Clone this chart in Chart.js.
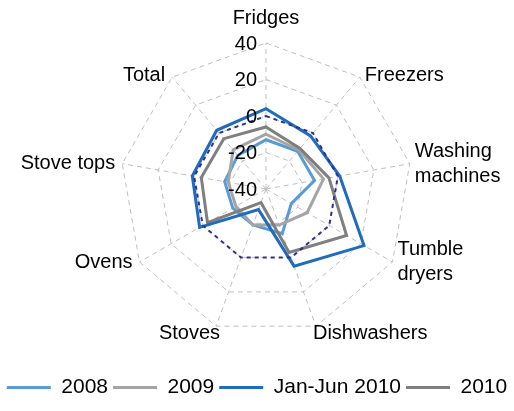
<!DOCTYPE html>
<html>
<head>
<meta charset="utf-8">
<script src="https://cdn.jsdelivr.net/npm/chart.js@4.4.1/dist/chart.umd.min.js"></script>
<style>
  html, body { margin: 0; padding: 0; background: #ffffff; }
  #wrap { width: 514px; height: 411px; position: relative; }
</style>
</head>
<body>
<div id="wrap"><canvas id="c" width="514" height="411"></canvas></div>
<script>
const categories = ["Fridges", "Freezers", ["Washing", "machines"], ["Tumble", "dryers"], "Dishwashers", "Stoves", "Ovens", "Stove tops", "Total"];
const seriesNames = ["2008", "2009", "Jan-Jun 2010", "2010"];
const values2008 = [-13, -13, -13, -24, -14, -19, -19, -17, -16];
const values2009 = [-10, -12, -8, -14, -19, -19, -21, -19, -12];
const valuesJanJun2010 = [4, -2, 1, 22, 5, -28, 2, 1, 2];
const values2010 = [-6, -11, -5, 11, -3, -32, -3, -4, -4];
const zeroLine = [0, 0, 0, 0, 0, 0, 0, 0, 0];
const tickValues = [40, 20, 0, -20, -40];

const FONT = "'Liberation Sans', Arial, Helvetica, sans-serif";
const PLOT = { cx: 266, cy: 189, r: 146 };

const labelPlugin = {
  id: 'radarLabels',
  afterDatasetsDraw(chart) {
    const s = chart.scales.r;
    const ctx = chart.ctx;
    ctx.save();
    ctx.font = '20px ' + FONT;
    ctx.fillStyle = '#000000';
    // tick labels
    ctx.textAlign = 'right';
    ctx.textBaseline = 'middle';
    tickValues.forEach(v => {
      const d = s.getDistanceFromCenterForValue(v);
      ctx.fillText(String(v), s.xCenter - 9, s.yCenter - d + 1);
    });
    // point labels
    const outer = s.getDistanceFromCenterForValue(s.max);
    const lineH = 25;
    categories.forEach((lab, i) => {
      const p = s.getPointPosition(i, outer);
      const lines = Array.isArray(lab) ? lab : [lab];
      const dx = p.x - s.xCenter;
      const dy = p.y - s.yCenter;
      const c = dy / outer;
      let x, yMid, align;
      if (Math.abs(dx) < 1) {
        align = 'center';
        x = p.x;
        yMid = dy < 0 ? p.y - 25 : p.y + 25;
      } else {
        align = dx > 0 ? 'left' : 'right';
        if (c > 0.85) {
          x = dx > 0 ? p.x - 3 : p.x + 4;
        } else {
          x = dx > 0 ? p.x + 5 : p.x - 7;
        }
        yMid = p.y + (c > 0.85 ? 7 : (c < -0.6 ? -2 : 0));
      }
      ctx.textAlign = align;
      const startY = yMid - (lines.length - 1) * lineH / 2;
      lines.forEach((t, k) => ctx.fillText(t, x, startY + k * lineH));
    });
    ctx.restore();
  }
};

new Chart(document.getElementById('c'), {
  type: 'radar',
  data: {
    labels: categories,
    datasets: [
      { label: '', data: zeroLine, borderColor: '#2e3192', borderWidth: 2, borderDash: [4, 4], fill: false, pointRadius: 0, order: 0 },
      { label: seriesNames[0], data: values2008, borderColor: '#5b9bd5', borderWidth: 3, fill: false, pointRadius: 0, order: 4 },
      { label: seriesNames[1], data: values2009, borderColor: '#a5a5a5', borderWidth: 3, fill: false, pointRadius: 0, order: 3 },
      { label: seriesNames[2], data: valuesJanJun2010, borderColor: '#1f6bbd', borderWidth: 3, fill: false, pointRadius: 0, order: 1 },
      { label: seriesNames[3], data: values2010, borderColor: '#7f7f7f', borderWidth: 3, fill: false, pointRadius: 0, order: 2 }
    ]
  },
  options: {
    responsive: false,
    animation: false,
    devicePixelRatio: 1,
    layout: { padding: { left: 0, right: 0, top: 0, bottom: 3 } },
    elements: { line: { tension: 0 } },
    plugins: {
      tooltip: { enabled: false },
      legend: {
        position: 'bottom',
        labels: {
          filter: (item) => item.text !== '',
          sort: (a, b) => a.datasetIndex - b.datasetIndex,
          usePointStyle: true,
          pointStyle: 'line',
          pointStyleWidth: 44,
          boxHeight: 21,
          padding: 5,
          color: '#000000',
          font: { family: FONT, size: 21 }
        }
      }
    },
    scales: {
      r: {
        min: -40,
        max: 40,
        ticks: { stepSize: 20, display: false },
        grid: { color: '#bfbfbf', lineWidth: 1, circular: false },
        border: { dash: [5, 4] },
        angleLines: { color: '#bfbfbf', lineWidth: 1, borderDash: [5, 4] },
        pointLabels: { display: false },
        afterFit: (s) => {
          s.xCenter = PLOT.cx;
          s.yCenter = PLOT.cy;
          s.drawingArea = PLOT.r;
        }
      }
    }
  },
  plugins: [labelPlugin]
});
</script>
</body>
</html>
